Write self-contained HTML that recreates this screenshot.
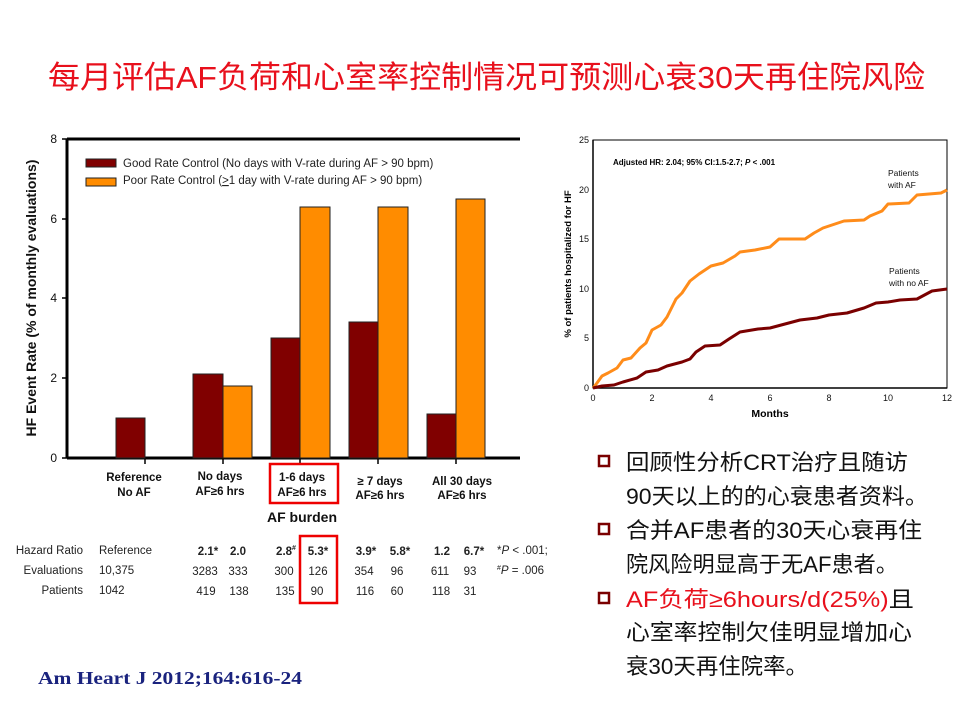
<!DOCTYPE html>
<html><head><meta charset="utf-8"><style>
html,body{margin:0;padding:0;background:#fff;}
svg{display:block;}
</style></head><body>
<svg width="960" height="720" xmlns="http://www.w3.org/2000/svg" font-family="Liberation Sans, sans-serif">
<text x="48" y="88" font-size="31" fill="#e8101c" textLength="877" lengthAdjust="spacingAndGlyphs" font-family="Liberation Sans, Noto Sans CJK SC, sans-serif">每月评估AF负荷和心室率控制情况可预测心衰30天再住院风险</text>

<!-- Bar chart -->
<g>
<line x1="67" y1="139" x2="520" y2="139" stroke="#000" stroke-width="3"/>
<line x1="67" y1="139" x2="67" y2="458" stroke="#000" stroke-width="3"/>
<line x1="67" y1="458" x2="520" y2="458" stroke="#000" stroke-width="3"/>
<g font-size="12" text-anchor="end" fill="#111">
<text x="57" y="143">8</text><text x="57" y="223">6</text><text x="57" y="302">4</text><text x="57" y="382">2</text><text x="57" y="462">0</text>
</g>
<g stroke="#000" stroke-width="1.5">
<line x1="62" y1="139" x2="67" y2="139"/><line x1="62" y1="219" x2="67" y2="219"/><line x1="62" y1="298" x2="67" y2="298"/><line x1="62" y1="378" x2="67" y2="378"/><line x1="62" y1="458" x2="67" y2="458"/>
<line x1="145" y1="458" x2="145" y2="464"/><line x1="223" y1="458" x2="223" y2="464"/><line x1="300" y1="458" x2="300" y2="464"/><line x1="378" y1="458" x2="378" y2="464"/><line x1="456" y1="458" x2="456" y2="464"/>
</g>
<text transform="translate(36,298) rotate(-90)" font-size="14" font-weight="bold" text-anchor="middle" fill="#111">HF Event Rate (% of monthly evaluations)</text>
<g stroke="#222" stroke-width="1">
<rect x="86" y="159" width="30" height="8" fill="#800000"/>
<rect x="86" y="178" width="30" height="8" fill="#ff8c00"/>
<rect x="116" y="418" width="29" height="40" fill="#800000"/>
<rect x="193" y="374" width="30" height="84" fill="#800000"/>
<rect x="223" y="386" width="29" height="72" fill="#ff8c00"/>
<rect x="271" y="338" width="29" height="120" fill="#800000"/>
<rect x="300" y="207" width="30" height="251" fill="#ff8c00"/>
<rect x="349" y="322" width="29" height="136" fill="#800000"/>
<rect x="378" y="207" width="30" height="251" fill="#ff8c00"/>
<rect x="427" y="414" width="29" height="44" fill="#800000"/>
<rect x="456" y="199" width="29" height="259" fill="#ff8c00"/>
</g>
<g font-size="11.5" fill="#222">
<text x="123" y="167">Good Rate Control (No days with V-rate during AF &gt; 90 bpm)</text>
<text x="123" y="184">Poor Rate Control (<tspan text-decoration="underline">&gt;</tspan>1 day with V-rate during AF &gt; 90 bpm)</text>
</g>
<g font-size="11.5" font-weight="bold" text-anchor="middle" fill="#111">
<text x="134" y="481">Reference</text><text x="134" y="496">No AF</text>
<text x="220" y="480">No days</text><text x="220" y="495">AF≥6 hrs</text>
<text x="302" y="481">1-6 days</text><text x="302" y="496">AF≥6 hrs</text>
<text x="380" y="485">≥ 7 days</text><text x="380" y="499">AF≥6 hrs</text>
<text x="462" y="485">All 30 days</text><text x="462" y="499">AF≥6 hrs</text>
<text x="302" y="522" font-size="14">AF burden</text>
</g>
<rect x="270" y="464" width="68" height="39" fill="none" stroke="#e00" stroke-width="2.5"/>
<rect x="300" y="536" width="37" height="67" fill="none" stroke="#e00" stroke-width="2.5"/>
<g font-size="11.5" fill="#222">
<text x="83" y="554" text-anchor="end">Hazard Ratio</text>
<text x="83" y="574" text-anchor="end">Evaluations</text>
<text x="83" y="594" text-anchor="end">Patients</text>
<text x="99" y="554">Reference</text><text x="99" y="574">10,375</text><text x="99" y="594">1042</text>
<g text-anchor="middle">
<text x="208" y="555" font-weight="bold">2.1*</text><text x="238" y="555" font-weight="bold">2.0</text>
<text x="286" y="555" font-weight="bold">2.8<tspan font-size="7" dy="-5">#</tspan></text><text x="318" y="555" font-weight="bold">5.3*</text>
<text x="366" y="555" font-weight="bold">3.9*</text><text x="400" y="555" font-weight="bold">5.8*</text>
<text x="442" y="555" font-weight="bold">1.2</text><text x="474" y="555" font-weight="bold">6.7*</text>
<text x="205" y="575">3283</text><text x="238" y="575">333</text><text x="284" y="575">300</text><text x="318" y="575">126</text>
<text x="364" y="575">354</text><text x="397" y="575">96</text><text x="440" y="575">611</text><text x="470" y="575">93</text>
<text x="206" y="595">419</text><text x="239" y="595">138</text><text x="285" y="595">135</text><text x="317" y="595">90</text>
<text x="365" y="595">116</text><text x="397" y="595">60</text><text x="441" y="595">118</text><text x="470" y="595">31</text>
</g>
<text x="497" y="554">*<tspan font-style="italic">P</tspan> &lt; .001;</text>
<text x="497" y="574"><tspan font-size="7" dy="-4">#</tspan><tspan dy="4" font-style="italic">P</tspan> = .006</text>
</g>
</g>

<!-- KM chart -->
<g>
<rect x="593" y="140" width="354" height="248" fill="none" stroke="#000" stroke-width="1"/>
<line x1="593" y1="140" x2="593" y2="388" stroke="#000" stroke-width="1.5"/>
<line x1="593" y1="388" x2="947" y2="388" stroke="#000" stroke-width="1.5"/>
<g font-size="9" text-anchor="end" fill="#111">
<text x="589" y="143">25</text><text x="589" y="193">20</text><text x="589" y="242">15</text><text x="589" y="292">10</text><text x="589" y="341">5</text><text x="589" y="391">0</text>
</g>
<g font-size="9" text-anchor="middle" fill="#111">
<text x="593" y="401">0</text><text x="652" y="401">2</text><text x="711" y="401">4</text><text x="770" y="401">6</text><text x="829" y="401">8</text><text x="888" y="401">10</text><text x="947" y="401">12</text>
</g>
<text x="770" y="417" font-size="10.5" font-weight="bold" text-anchor="middle">Months</text>
<text transform="translate(571,264) rotate(-90)" font-size="9.5" font-weight="bold" text-anchor="middle">% of patients hospitalized for HF</text>
<text x="613" y="165" font-size="8" font-weight="bold">Adjusted HR: 2.04; 95% CI:1.5-2.7; <tspan font-style="italic">P</tspan> &lt; .001</text>
<g font-size="8.5" fill="#111"><text x="888" y="176">Patients</text><text x="888" y="188">with AF</text>
<text x="889" y="274">Patients</text><text x="889" y="286">with no AF</text></g>
<polyline fill="none" stroke="#ff8c1a" stroke-width="3" stroke-linejoin="round" points="593,388 597,383 602,376 608,373 617,368 623,360 631,358 640,348 646,343 652,330 661,325 667,317 676,299 682,293 690,281 699,274 711,266 723,263 735,256 740,252 755,250 770,247 779,239 805,239 814,233 823,228 835,224 844,221 864,220 870,216 882,211 888,204 909,203 917,195 941,193 947,190"/>
<polyline fill="none" stroke="#7a0000" stroke-width="3" stroke-linejoin="round" points="593,388 602,386 614,385 623,382 637,378 646,372 658,370 667,366 682,362 690,359 696,352 705,346 720,345 729,339 740,332 758,329 770,328 785,324 800,320 817,318 829,315 847,313 864,308 876,303 888,302 900,300 917,299 932,291 947,289"/>
</g>

<!-- bullets -->
<g font-size="22" fill="#111" font-family="Liberation Sans, Noto Sans CJK SC, sans-serif">
<rect x="599" y="456" width="10" height="10" fill="none" stroke="#7a0000" stroke-width="2.5"/>
<rect x="599" y="524" width="10" height="10" fill="none" stroke="#7a0000" stroke-width="2.5"/>
<rect x="599" y="593" width="10" height="10" fill="none" stroke="#7a0000" stroke-width="2.5"/>
<text x="626" y="470" textLength="282" lengthAdjust="spacingAndGlyphs">回顾性分析CRT治疗且随访</text>
<text x="626" y="504" textLength="302" lengthAdjust="spacingAndGlyphs">90天以上的的心衰患者资料。</text>
<text x="626" y="538" textLength="296" lengthAdjust="spacingAndGlyphs">合并AF患者的30天心衰再住</text>
<text x="626" y="572" textLength="272" lengthAdjust="spacingAndGlyphs">院风险明显高于无AF患者。</text>
<text x="626" y="607" textLength="288" lengthAdjust="spacingAndGlyphs"><tspan fill="#e8101c">AF负荷≥6hours/d(25%)</tspan>且</text>
<text x="626" y="640" textLength="286" lengthAdjust="spacingAndGlyphs">心室率控制欠佳明显增加心</text>
<text x="626" y="674" textLength="182" lengthAdjust="spacingAndGlyphs">衰30天再住院率。</text>
</g>
<text x="38" y="684" font-family="Liberation Serif, serif" font-size="18" font-weight="bold" fill="#1a237e" textLength="264" lengthAdjust="spacingAndGlyphs">Am Heart J 2012;164:616-24</text>
</svg>
</body></html>
